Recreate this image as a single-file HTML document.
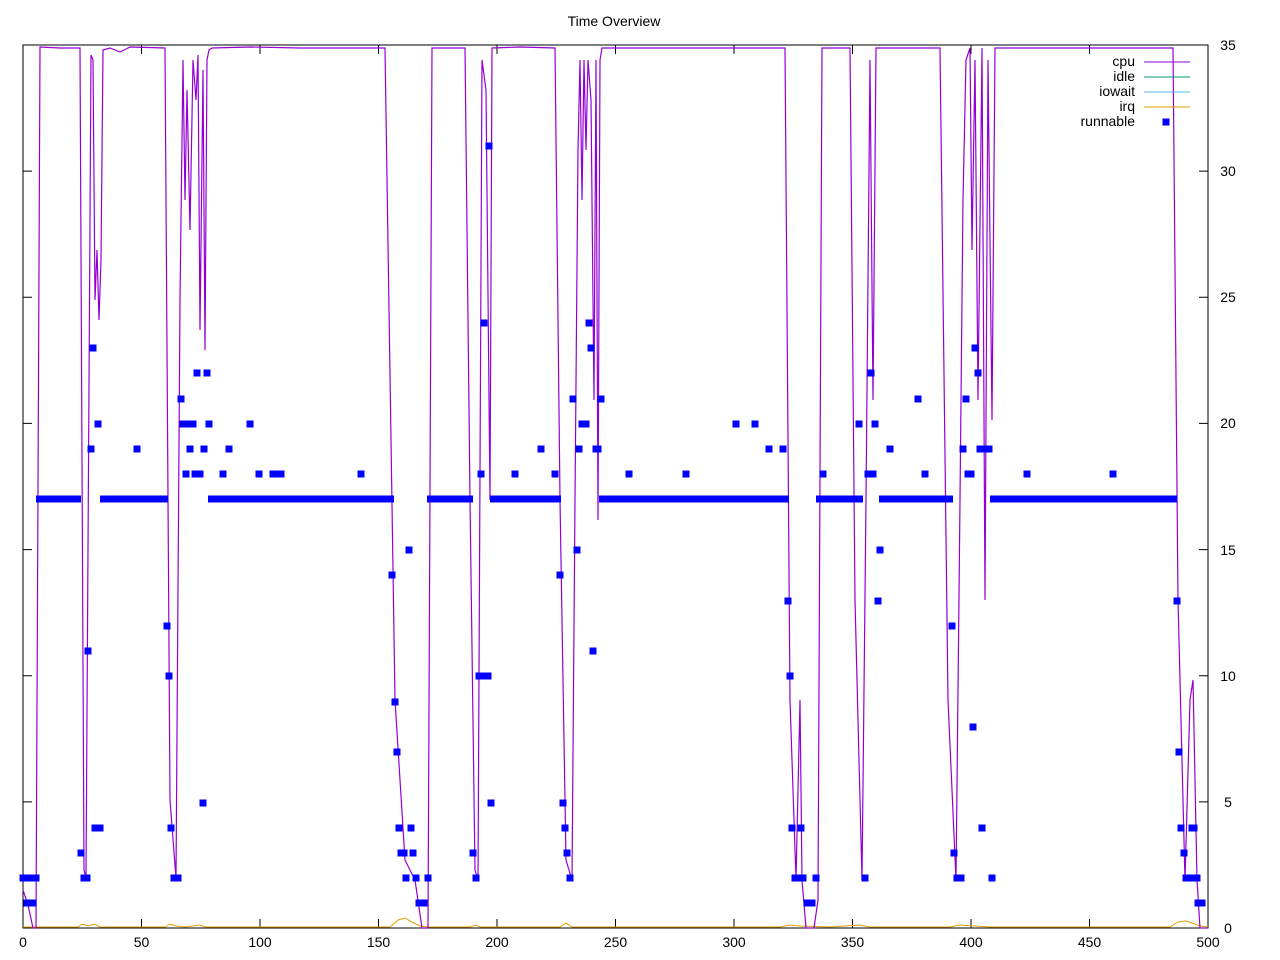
<!DOCTYPE html>
<html><head><meta charset="utf-8"><style>
body{margin:0;background:#fff}
svg{display:block;font-family:"Liberation Sans",sans-serif}
</style></head><body>
<svg width="1280" height="960" viewBox="0 0 1280 960" xmlns="http://www.w3.org/2000/svg">
<defs><rect id="s" x="-3.5" y="-3.5" width="7" height="7" fill="#0000ff"/></defs>
<text x="614" y="26" font-size="14" text-anchor="middle">Time Overview</text>
<g stroke="#000" stroke-width="1">
<path d="M23,928V45H1208V928Z" fill="none"/>
<path d="M141.5,928v-9M260,928v-9M378.5,928v-9M497,928v-9M615.5,928v-9M734,928v-9M852.5,928v-9M971,928v-9M1089.5,928v-9M141.5,45v9M260,45v9M378.5,45v9M497,45v9M615.5,45v9M734,45v9M852.5,45v9M971,45v9M1089.5,45v9"/>
<path d="M1208,801.9h-9M1208,675.7h-9M1208,549.6h-9M1208,423.4h-9M1208,297.3h-9M1208,171.1h-9M23,801.9h9M23,675.7h9M23,549.6h9M23,423.4h9M23,297.3h9M23,171.1h9"/>
</g>
<g font-size="14" text-anchor="middle">
<text x="23" y="947">0</text><text x="141.5" y="947">50</text><text x="260" y="947">100</text><text x="378.5" y="947">150</text><text x="497" y="947">200</text><text x="615.5" y="947">250</text><text x="734" y="947">300</text><text x="852.5" y="947">350</text><text x="971" y="947">400</text><text x="1089.5" y="947">450</text><text x="1208" y="947">500</text>
</g>
<g font-size="14" text-anchor="middle">
<text x="1228" y="933">0</text><text x="1228" y="807">5</text><text x="1228" y="681">10</text><text x="1228" y="555">15</text><text x="1228" y="428">20</text><text x="1228" y="302">25</text><text x="1228" y="176">30</text><text x="1228" y="50">35</text>
</g>
<polyline fill="none" stroke="#e69f00" stroke-width="1" points="23,927 78,927 82,924 88,926 94,924 100,927 165,927 170,924 176,926 185,927 200,925 205,927 390,927 398,920 405,918 412,922 420,926 428,927 470,927 476,925 480,927 560,927 566,923 572,927 780,927 790,925 800,926 830,927 860,925 870,927 950,927 960,925 990,927 1170,927 1178,922 1186,921 1192,923 1200,926 1208,927"/>
<polyline fill="none" stroke="#9400d3" stroke-width="1.2" points="23,890 28,905 33,928 36,928 40,47 60,48 80,48 84,870 86,878 91,55 93,60 95,300 97,250 99,320 101,260 103,50 110,48 120,52 130,47 165,48 170,800 176,878 180,300 183,60 185,200 187,90 190,230 193,60 196,100 198,55 200,330 203,70 205,350 207,60 209,50 212,48 250,47 300,48 385,48 395,700 405,860 415,880 422,928 428,928 432,48 465,48 470,500 475,870 478,880 482,60 486,90 490,500 492,48 520,47 555,48 560,500 566,860 572,880 575,500 578,150 580,60 582,200 584,60 586,150 588,60 591,100 594,400 596,60 598,520 600,60 602,48 700,48 785,48 790,700 796,880 800,700 802,880 806,928 814,928 818,900 822,48 850,48 855,600 862,880 866,500 870,60 873,400 876,48 940,48 948,700 956,880 960,500 963,200 966,60 970,48 972,250 975,60 978,400 982,48 985,600 988,60 992,420 995,48 1100,48 1173,48 1178,600 1185,880 1190,700 1193,680 1197,880 1200,928 1207,928"/>
<g fill="#0000ff">
<rect x="36" y="495.5" width="45" height="7"/>
<rect x="100" y="495.5" width="68" height="7"/>
<rect x="208" y="495.5" width="186" height="7"/>
<rect x="427" y="495.5" width="46" height="7"/>
<rect x="490" y="495.5" width="71" height="7"/>
<rect x="599" y="495.5" width="190" height="7"/>
<rect x="816" y="495.5" width="47" height="7"/>
<rect x="879" y="495.5" width="74" height="7"/>
<rect x="990" y="495.5" width="187" height="7"/>
</g>
<g>
<use href="#s" x="23" y="878"/><use href="#s" x="27" y="878"/><use href="#s" x="31" y="878"/><use href="#s" x="36" y="878"/><use href="#s" x="27" y="903"/><use href="#s" x="33" y="903"/>
<use href="#s" x="81" y="853"/><use href="#s" x="84" y="878"/><use href="#s" x="87" y="878"/><use href="#s" x="88" y="651"/><use href="#s" x="91" y="449"/><use href="#s" x="93" y="348"/><use href="#s" x="95" y="828"/><use href="#s" x="98" y="424"/><use href="#s" x="100" y="828"/><use href="#s" x="137" y="449"/>
<use href="#s" x="167" y="626"/><use href="#s" x="169" y="676"/><use href="#s" x="171" y="828"/><use href="#s" x="174" y="878"/><use href="#s" x="178" y="878"/><use href="#s" x="181" y="399"/><use href="#s" x="183" y="424"/><use href="#s" x="186" y="474"/><use href="#s" x="188" y="424"/><use href="#s" x="190" y="449"/><use href="#s" x="193" y="424"/><use href="#s" x="195" y="474"/><use href="#s" x="197" y="373"/><use href="#s" x="200" y="474"/><use href="#s" x="203" y="803"/><use href="#s" x="204" y="449"/><use href="#s" x="207" y="373"/><use href="#s" x="209" y="424"/>
<use href="#s" x="223" y="474"/><use href="#s" x="229" y="449"/><use href="#s" x="250" y="424"/><use href="#s" x="259" y="474"/><use href="#s" x="273" y="474"/><use href="#s" x="278" y="474"/><use href="#s" x="281" y="474"/><use href="#s" x="361" y="474"/>
<use href="#s" x="392" y="575"/><use href="#s" x="395" y="702"/><use href="#s" x="397" y="752"/><use href="#s" x="399" y="828"/><use href="#s" x="401" y="853"/><use href="#s" x="404" y="853"/><use href="#s" x="406" y="878"/><use href="#s" x="409" y="550"/><use href="#s" x="411" y="828"/><use href="#s" x="413" y="853"/><use href="#s" x="416" y="878"/><use href="#s" x="419" y="903"/><use href="#s" x="424" y="903"/><use href="#s" x="428" y="878"/>
<use href="#s" x="473" y="853"/><use href="#s" x="476" y="878"/><use href="#s" x="479" y="676"/><use href="#s" x="481" y="474"/><use href="#s" x="484" y="323"/><use href="#s" x="486" y="676"/><use href="#s" x="488" y="676"/><use href="#s" x="489" y="146"/><use href="#s" x="491" y="803"/><use href="#s" x="515" y="474"/><use href="#s" x="541" y="449"/><use href="#s" x="555" y="474"/>
<use href="#s" x="560" y="575"/><use href="#s" x="563" y="803"/><use href="#s" x="565" y="828"/><use href="#s" x="567" y="853"/><use href="#s" x="570" y="878"/><use href="#s" x="573" y="399"/><use href="#s" x="577" y="550"/><use href="#s" x="579" y="449"/><use href="#s" x="582" y="424"/><use href="#s" x="586" y="424"/><use href="#s" x="589" y="323"/><use href="#s" x="591" y="348"/><use href="#s" x="593" y="651"/><use href="#s" x="596" y="449"/><use href="#s" x="598" y="449"/><use href="#s" x="601" y="399"/>
<use href="#s" x="629" y="474"/><use href="#s" x="686" y="474"/><use href="#s" x="736" y="424"/><use href="#s" x="755" y="424"/><use href="#s" x="769" y="449"/><use href="#s" x="783" y="449"/>
<use href="#s" x="788" y="601"/><use href="#s" x="790" y="676"/><use href="#s" x="792" y="828"/><use href="#s" x="795" y="878"/><use href="#s" x="799" y="878"/><use href="#s" x="801" y="828"/><use href="#s" x="803" y="878"/><use href="#s" x="807" y="903"/><use href="#s" x="812" y="903"/><use href="#s" x="816" y="878"/><use href="#s" x="823" y="474"/>
<use href="#s" x="859" y="424"/><use href="#s" x="865" y="878"/><use href="#s" x="868" y="474"/><use href="#s" x="871" y="373"/><use href="#s" x="873" y="474"/><use href="#s" x="875" y="424"/><use href="#s" x="878" y="601"/><use href="#s" x="880" y="550"/><use href="#s" x="890" y="449"/><use href="#s" x="918" y="399"/><use href="#s" x="925" y="474"/>
<use href="#s" x="952" y="626"/><use href="#s" x="954" y="853"/><use href="#s" x="957" y="878"/><use href="#s" x="961" y="878"/><use href="#s" x="963" y="449"/><use href="#s" x="966" y="399"/><use href="#s" x="968" y="474"/><use href="#s" x="971" y="474"/><use href="#s" x="973" y="727"/><use href="#s" x="975" y="348"/><use href="#s" x="978" y="373"/><use href="#s" x="980" y="449"/><use href="#s" x="982" y="828"/><use href="#s" x="984" y="449"/><use href="#s" x="989" y="449"/><use href="#s" x="992" y="878"/>
<use href="#s" x="1027" y="474"/><use href="#s" x="1113" y="474"/>
<use href="#s" x="1177" y="601"/><use href="#s" x="1179" y="752"/><use href="#s" x="1181" y="828"/><use href="#s" x="1184" y="853"/><use href="#s" x="1186" y="878"/><use href="#s" x="1190" y="878"/><use href="#s" x="1192" y="828"/><use href="#s" x="1194" y="828"/><use href="#s" x="1197" y="878"/><use href="#s" x="1198" y="903"/><use href="#s" x="1202" y="903"/>
</g>
<g font-size="14" text-anchor="end">
<text x="1135" y="66">cpu</text><text x="1135" y="81">idle</text><text x="1135" y="96">iowait</text><text x="1135" y="111">irq</text><text x="1135" y="126">runnable</text>
</g>
<g stroke-width="1">
<line x1="1144" y1="62" x2="1190" y2="62" stroke="#9400d3"/>
<line x1="1144" y1="77" x2="1190" y2="77" stroke="#009e73"/>
<line x1="1144" y1="92" x2="1190" y2="92" stroke="#56b4e9"/>
<line x1="1144" y1="107" x2="1190" y2="107" stroke="#e69f00"/>
</g>
<use href="#s" x="1166" y="122"/>
</svg>
</body></html>
